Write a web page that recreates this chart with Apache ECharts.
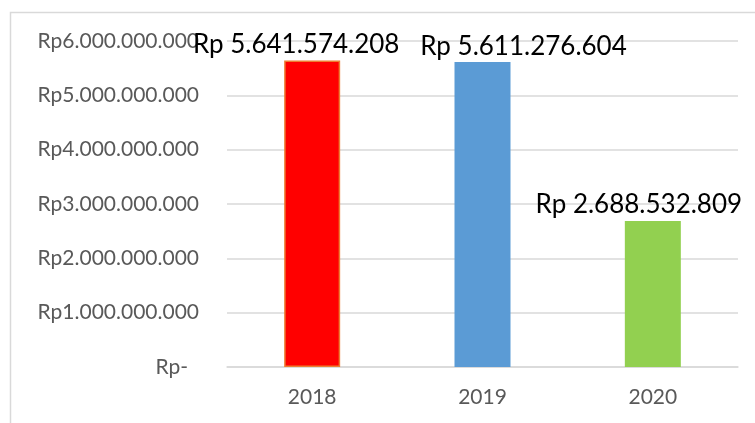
<!DOCTYPE html>
<html>
<head>
<meta charset="utf-8">
<script src="https://cdn.jsdelivr.net/npm/echarts@6/dist/echarts.min.js"></script>
<style>html,body{margin:0;padding:0;background:#fff;}#c{width:755px;height:423px;}</style>
</head>
<body>
<div id="c"></div>
<script>
const categories = ['2018', '2019', '2020'];
const values = [5641574208, 5611276604, 2688532809];
const yTicks = [0, 1000000000, 2000000000, 3000000000, 4000000000, 5000000000, 6000000000];

const barColors = ['#FF0000', '#5B9BD5', '#92D050'];
const labelShift = [-16, 41, -14];

function dots(n) {
  return String(Math.round(n)).replace(/\B(?=(\d{3})+(?!\d))/g, '.');
}

const chart = echarts.init(document.getElementById('c'), null, {renderer: 'canvas'});
chart.setOption({
  animation: false,
  backgroundColor: '#ffffff',
  graphic: [{
    type: 'rect',
    shape: {x: 10.5, y: 12.5, width: 900, height: 600},
    style: {fill: 'none', stroke: '#D9D9D9', lineWidth: 1.5},
    silent: true,
    z: -1
  }],
  grid: {left: 227, right: 17, top: 41, bottom: 56},
  xAxis: {
    type: 'category',
    data: categories,
    axisLine: {show: true, lineStyle: {color: '#D9D9D9', width: 1.5}},
    axisTick: {show: false},
    axisLabel: {color: '#595959', fontFamily: 'Lato', fontSize: 21, margin: 20}
  },
  yAxis: {
    type: 'value',
    min: yTicks[0],
    max: yTicks[yTicks.length - 1],
    interval: yTicks[1] - yTicks[0],
    axisLine: {show: false},
    axisTick: {show: false},
    splitLine: {lineStyle: {color: '#D9D9D9', width: 1.5}},
    axisLabel: {
      color: '#595959', fontFamily: 'Lato', fontSize: 21, margin: 28,
      formatter: function (v) { return v === 0 ? '{z|Rp-}' : 'Rp' + dots(v); },
      rich: {z: {color: '#595959', fontFamily: 'Lato', fontSize: 21, padding: [0, 11, 0, 0]}}
    }
  },
  series: [{
    type: 'bar',
    barWidth: 56,
    data: values.map(function (v, i) {
      return {
        value: v,
        itemStyle: {
          color: barColors[i],
          borderColor: i === 0 ? '#ED7D31' : barColors[i],
          borderWidth: i === 0 ? 1.5 : 0
        },
        label: {offset: [labelShift[i], 0]}
      };
    }),
    label: {
      show: true,
      position: 'top',
      distance: 3,
      color: '#000000',
      fontFamily: 'Lato',
      fontSize: 26,
      formatter: function (p) { return 'Rp ' + dots(p.value); }
    }
  }]
});
</script>
</body>
</html>
